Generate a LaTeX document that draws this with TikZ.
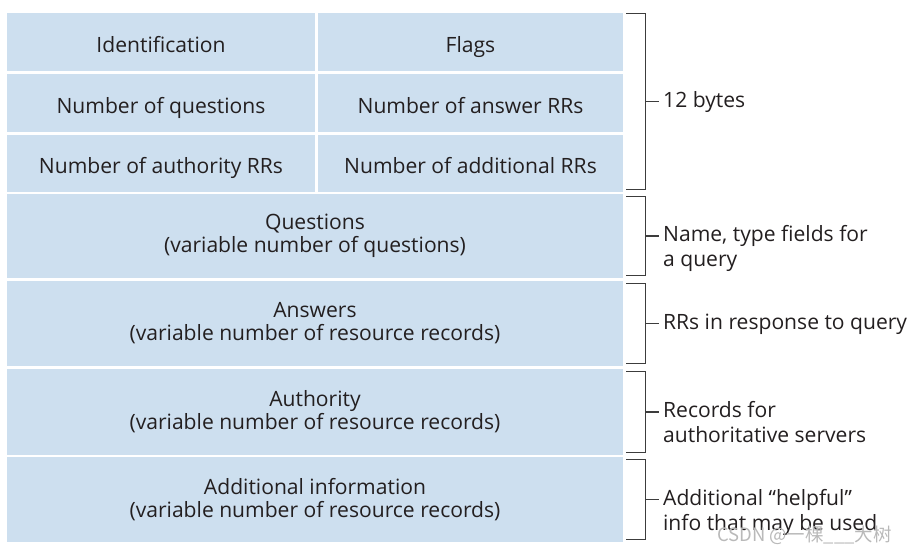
\documentclass[tikz,border=0pt]{standalone}
\usepackage{fontspec}
\setmainfont{Open Sans}
\newfontfamily\cjk{Noto Sans CJK SC}
\definecolor{fieldblue}{RGB}{205,223,239}
\definecolor{inkdark}{RGB}{35,31,32}
\definecolor{bracketgray}{RGB}{60,60,60}

\begin{document}
\begin{tikzpicture}[x=0.02cm,y=-0.02cm,font=\fontsize{12}{13}\selectfont,
  field/.style={fill=fieldblue,draw=none,inner sep=0pt,align=center,text=inkdark},
  cell/.style={field,text height=11.4pt,text depth=0pt},
  bracket/.style={draw=bracketgray,line width=0.7pt},
  note/.style={anchor=base west,align=left,inner xsep=2pt,inner ysep=0pt,text=inkdark,font=\fontsize{12}{14}\selectfont}]
\useasboundingbox (0,0) rectangle (909,552);
% header, 12 bytes
\node[cell,minimum width=6.16cm,minimum height=1.16cm] (ident) at (161,42) {Identification};
\node[cell,minimum width=6.10cm,minimum height=1.16cm] (flags) at (470.5,42) {Flags};
\node[cell,minimum width=6.16cm,minimum height=1.16cm] (nquest) at (161,103) {Number of questions};
\node[cell,minimum width=6.10cm,minimum height=1.16cm] (nanswer) at (470.5,103) {Number of answer RRs};
\node[cell,minimum width=6.16cm,minimum height=1.14cm] (nauth) at (161,163.5) {Number of authority RRs};
\node[cell,minimum width=6.10cm,minimum height=1.14cm] (naddit) at (470.5,163.5) {Number of additional RRs};
% variable sections
\node[field,minimum width=12.32cm,minimum height=1.68cm] (quest) at (315,236) {Questions\\(variable number of questions)};
\node[field,minimum width=12.32cm,minimum height=1.70cm] (answer) at (315,323.5) {Answers\\(variable number of resource records)};
\node[field,minimum width=12.32cm,minimum height=1.72cm] (auth) at (315,412) {Authority\\(variable number of resource records)};
\node[field,minimum width=12.32cm,minimum height=1.70cm] (addit) at (315,499.5) {Additional information\\(variable number of resource records)};
% brackets
\draw[bracket] ([shift={(3,1)}]flags.north east) -| coordinate[pos=0.75] (b1m) ([shift={(22,-3)}]naddit.south east) -- ++(-19,0);
\draw[bracket] ([shift={(3,3)}]quest.north east) -| coordinate[pos=0.75] (b2m) ([shift={(22,-3)}]quest.south east) -- ++(-19,0);
\draw[bracket] ([shift={(3,3)}]answer.north east) -| coordinate[pos=0.75] (b3m) ([shift={(22,-3)}]answer.south east) -- ++(-19,0);
\draw[bracket] ([shift={(3,3)}]auth.north east) -| coordinate[pos=0.75] (b4m) ([shift={(22,-3)}]auth.south east) -- ++(-19,0);
\draw[bracket] ([shift={(3,3)}]addit.north east) -| coordinate[pos=0.75] (b5m) ([shift={(22,-3)}]addit.south east) -- ++(-19,0);
\node[note] (bytes) at ([shift={(14,6)}]b1m) {12 bytes};
\node[note] (namefld) at ([shift={(14,30.5)}]b2m) {Name, type fields for\\a query};
\node[note] (rrresp) at ([shift={(14,6)}]b3m) {RRs in response to query};
\node[note] (records) at ([shift={(14,30.5)}]b4m) {Records for\\authoritative servers};
\node[note] (helpful) at ([shift={(14,30.5)}]b5m) {Additional ``helpful''\\info that may be used};
\draw[bracket] (b1m) -- (b1m -| bytes.west);
\draw[bracket] (b2m) -- (b2m -| namefld.west);
\draw[bracket] (b3m) -- (b3m -| rrresp.west);
\draw[bracket] (b4m) -- (b4m -| records.west);
\draw[bracket] (b5m) -- (b5m -| helpful.west);
% watermark
\node[anchor=base east,inner sep=0pt,text=gray!55,font=\cjk\fontsize{10.5}{12}\selectfont] (mark) at (892,541) {CSDN @一棵\_\_\_大树};
\end{tikzpicture}
\end{document}
